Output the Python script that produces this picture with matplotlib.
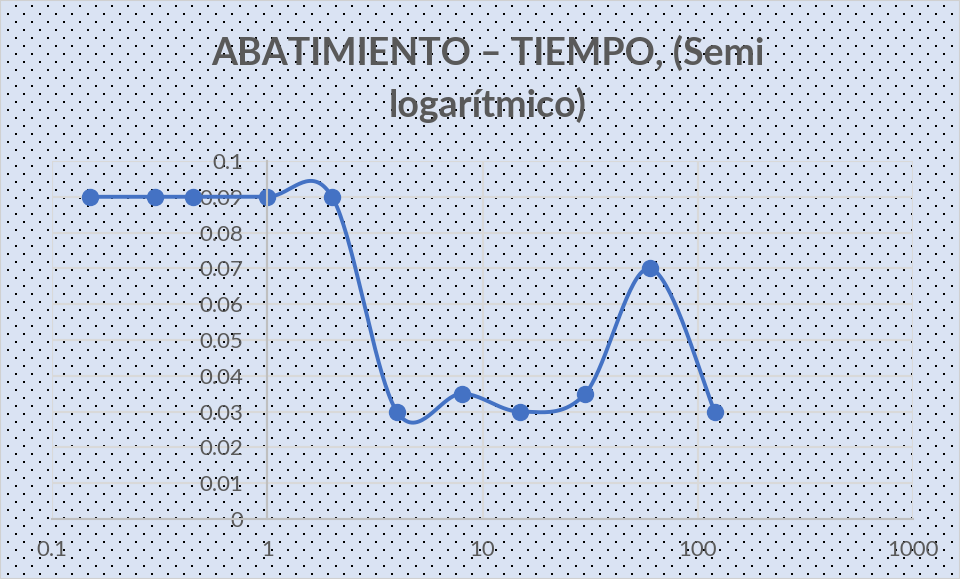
import numpy as np
import matplotlib.pyplot as plt
from matplotlib.patches import Rectangle

# Datos
tiempo = [0.15, 0.3, 0.45, 1, 2, 4, 8, 15, 30, 60, 120]
abatimiento = [0.09, 0.09, 0.09, 0.09, 0.09, 0.03, 0.035, 0.03, 0.035, 0.07, 0.03]
x_ticks = [0.1, 1, 10, 100, 1000]
x_labels = ['0.1', '1', '10', '100', '1000']
y_ticks = [0, 0.01, 0.02, 0.03, 0.04, 0.05, 0.06, 0.07, 0.08, 0.09, 0.1]
y_labels = ['0', '0.01', '0.02', '0.03', '0.04', '0.05', '0.06', '0.07', '0.08', '0.09', '0.1']
titulo = 'ABATIMIENTO – TIEMPO, (Semi\nlogarítmico)'

color_linea = '#4472C4'
color_texto = '#595959'
fuente = ['Lato', 'DejaVu Sans']


def smooth_excel(xs, ys, sx=215.0, sy=3580.0, n=40):
    # Curva tipo Excel (Bezier / Catmull-Rom) en coordenadas de pantalla
    u = np.log10(xs) * sx
    v = np.asarray(ys) * sy
    P = np.column_stack([u, v])
    Pe = np.vstack([P[0], P, P[-1]])
    t = np.linspace(0, 1, n)[:, None]
    out = []
    for i in range(len(P) - 1):
        p0, p1, p2, p3 = Pe[i], Pe[i + 1], Pe[i + 2], Pe[i + 3]
        c1 = p1 + (p2 - p0) / 6
        c2 = p2 - (p3 - p1) / 6
        b = (1 - t)**3 * p1 + 3 * (1 - t)**2 * t * c1 + 3 * (1 - t) * t**2 * c2 + t**3 * p2
        out.append(b if i == 0 else b[1:])
    B = np.vstack(out)
    return 10**(B[:, 0] / sx), B[:, 1] / sy


fig = plt.figure(figsize=(9.6, 5.79), dpi=100)

# Fondo con trama de puntos
H, W = 579, 960
bg = np.empty((H, W, 3))
bg[:] = np.array([0xDA, 0xE3, 0xF3]) / 255
for k, r in enumerate(range(5, H, 8)):
    off = 15 if k % 2 == 0 else 7
    bg[r:r + 2, off::16] = 0
    bg[r:r + 2, off + 1::16] = 0
ax_bg = fig.add_axes([0, 0, 1, 1], zorder=-1)
ax_bg.imshow(bg, aspect='auto', interpolation='nearest')
ax_bg.axis('off')
fig.patches.append(Rectangle((0, 0), 1, 1, transform=fig.transFigure, fill=False,
                             edgecolor='#D0D0D0', lw=1.5))

ax = fig.add_axes([52 / 960, 1 - 519 / 579, (913 - 52) / 960, (519 - 161) / 579])
ax.set_facecolor('none')
ax.set_xscale('log')
ax.set_xlim(0.1, 1000)
ax.set_ylim(0, 0.1)

ax.set_xticks(x_ticks)
ax.set_xticklabels(x_labels)
ax.minorticks_off()
ax.set_yticks(y_ticks)
ax.set_yticklabels(y_labels)

ax.grid(True, color='#D9D9D9', lw=1.5)
ax.set_axisbelow(True)
for s in ['top', 'right']:
    ax.spines[s].set_visible(False)
ax.spines['left'].set_position(('data', 1))
ax.spines['left'].set_color('#BFBFBF')
ax.spines['left'].set_linewidth(1.5)
ax.spines['bottom'].set_color('#BFBFBF')
ax.spines['bottom'].set_linewidth(1.5)

ax.tick_params(axis='x', length=0, pad=15, labelsize=16, labelcolor=color_texto)
ax.tick_params(axis='y', length=0, pad=17, labelsize=16, labelcolor=color_texto)
for lab in ax.get_xticklabels() + ax.get_yticklabels():
    lab.set_family(fuente)

xs, ys = smooth_excel(tiempo, abatimiento)
ax.plot(xs, ys, color=color_linea, lw=2.8, solid_capstyle='round', clip_on=False)
ax.plot(tiempo, abatimiento, 'o', color=color_linea, ms=11.5, clip_on=False)

fig.text(488 / 960, 1 - 79 / 579, titulo, ha='center', va='center', fontsize=27,
         fontweight='bold', color=color_texto, family=fuente, linespacing=1.5)

fig.savefig('out.png', dpi=100)
